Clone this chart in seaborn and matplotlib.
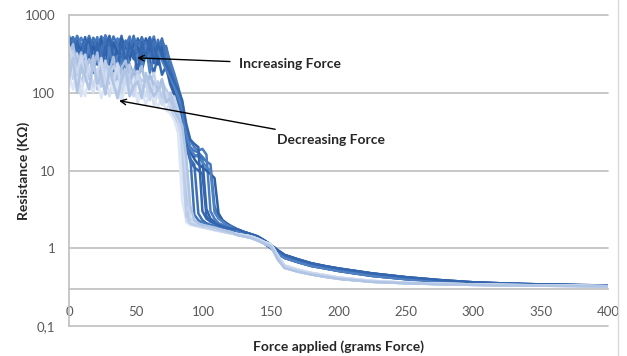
import numpy as np
import pandas as pd
import seaborn as sns
import matplotlib.pyplot as plt
from matplotlib.lines import Line2D

# force grid for the noisy part of each sweep (grams force)
force_head = list(range(0, 121, 3))
# shared smooth tail (grams force)
force_tail = [125, 130, 135, 140, 145, 150, 155, 160, 170, 180, 190, 200,
              225, 250, 275, 300, 325, 350, 375, 400]

# increasing force sweeps, resistance in kOhm
inc_1 = [420, 300, 480, 350, 520, 280, 450, 380, 530, 300, 470, 250, 440, 510, 330, 480, 270, 500, 400, 290,
         460, 350, 420, 300, 380, 220, 150, 100, 60, 22, 17, 15, 16, 14, 3.2, 2.4, 2.2, 2.0, 1.9, 1.85, 1.8]
inc_2 = [350, 480, 260, 420, 310, 500, 380, 230, 460, 520, 290, 410, 350, 540, 260, 390, 470, 320, 520, 380,
         250, 420, 300, 450, 260, 180, 120, 80, 45, 19, 14, 12, 2.8, 2.3, 2.1, 2.0, 1.95, 1.9, 1.85, 1.8, 1.75]
inc_3 = [480, 380, 540, 420, 300, 490, 360, 520, 270, 430, 500, 340, 480, 230, 400, 530, 310, 450, 260, 410,
         520, 280, 480, 330, 400, 240, 170, 110, 70, 30, 20, 18, 17, 15, 13, 12, 3.5, 2.5, 2.2, 2.0, 1.9]
inc_4 = [300, 420, 220, 380, 260, 450, 200, 340, 410, 240, 370, 180, 330, 420, 210, 360, 280, 430, 190, 320,
         260, 180, 300, 170, 220, 130, 95, 70, 48, 25, 13, 11, 10, 9, 2.6, 2.2, 2.1, 2.0, 1.9, 1.8, 1.75]
inc_5 = [520, 440, 360, 510, 400, 540, 330, 460, 390, 550, 420, 320, 500, 380, 450, 300, 520, 360, 470, 330,
         410, 530, 300, 480, 350, 260, 180, 120, 75, 35, 24, 20, 18, 19, 16, 3.0, 2.4, 2.1, 2.0, 1.9, 1.85]
inc_6 = [380, 250, 440, 330, 480, 250, 400, 300, 470, 360, 230, 450, 310, 500, 360, 260, 430, 380, 280, 500,
         330, 480, 230, 400, 200, 150, 100, 75, 50, 28, 18, 14, 12, 11, 10, 9, 8, 2.8, 2.3, 2.1, 1.95]
inc_7 = [460, 520, 390, 300, 460, 370, 510, 420, 330, 490, 380, 530, 400, 290, 470, 340, 540, 290, 350, 450,
         280, 460, 330, 500, 260, 190, 130, 85, 55, 20, 15, 2.7, 2.3, 2.1, 2.0, 1.95, 1.9, 1.85, 1.8, 1.75, 1.7]
inc_8 = [200, 350, 160, 300, 220, 420, 180, 330, 250, 150, 380, 210, 300, 170, 350, 230, 160, 310, 200, 400,
         180, 290, 350, 260, 200, 160, 120, 90, 65, 30, 19, 16, 15, 13, 11, 10, 2.9, 2.4, 2.2, 2.0, 1.9]
inc_9 = [540, 300, 450, 180, 390, 500, 250, 440, 190, 360, 540, 280, 200, 460, 240, 410, 330, 190, 450, 280,
         500, 240, 420, 300, 230, 180, 140, 110, 80, 40, 25, 22, 20, 3.0, 2.4, 2.2, 2.1, 2.0, 1.9, 1.85, 1.8]
inc_tail_a = [1.7, 1.6, 1.5, 1.38, 1.22, 1.05, 0.9, 0.79, 0.69, 0.62, 0.57, 0.53,
              0.46, 0.41, 0.38, 0.36, 0.35, 0.34, 0.335, 0.33]
inc_tail_b = [1.65, 1.55, 1.45, 1.3, 1.15, 1.0, 0.86, 0.75, 0.66, 0.59, 0.55, 0.51,
              0.44, 0.40, 0.37, 0.355, 0.345, 0.338, 0.333, 0.328]
inc_tail_c = [1.75, 1.62, 1.52, 1.42, 1.26, 1.1, 0.94, 0.82, 0.72, 0.64, 0.59, 0.55,
              0.475, 0.425, 0.39, 0.365, 0.352, 0.343, 0.337, 0.332]

# decreasing force sweeps, resistance in kOhm
dec_1 = [250, 150, 320, 180, 260, 130, 220, 160, 280, 140, 200, 120, 240, 170, 110, 210, 150, 190, 100, 160,
         130, 180, 95, 140, 110, 80, 90, 60, 35, 2.3, 2.1, 2.0, 1.95, 1.9, 1.85, 1.8, 1.75, 1.7, 1.65, 1.6, 1.58]
dec_2 = [380, 200, 280, 120, 230, 170, 300, 110, 190, 250, 130, 180, 95, 200, 140, 230, 100, 170, 120, 90,
         150, 110, 130, 75, 100, 65, 50, 40, 20, 3.0, 2.2, 2.05, 2.0, 1.9, 1.85, 1.8, 1.75, 1.7, 1.65, 1.62, 1.6]
dec_3 = [120, 230, 160, 90, 190, 140, 100, 170, 120, 210, 90, 150, 110, 80, 160, 100, 130, 75, 120, 90,
         140, 70, 100, 80, 60, 75, 55, 45, 12, 2.2, 2.0, 1.95, 1.9, 1.85, 1.8, 1.75, 1.7, 1.66, 1.62, 1.58, 1.55]
dec_4 = [300, 420, 220, 330, 180, 270, 200, 330, 150, 240, 190, 290, 140, 210, 260, 130, 200, 150, 220, 120,
         170, 130, 110, 150, 90, 100, 70, 50, 30, 6, 2.3, 2.1, 2.0, 1.95, 1.9, 1.85, 1.8, 1.75, 1.7, 1.66, 1.62]
dec_5 = [180, 110, 200, 130, 90, 160, 110, 140, 85, 130, 170, 100, 140, 75, 120, 95, 150, 80, 110, 70,
         100, 85, 65, 90, 60, 55, 45, 30, 4, 2.4, 2.2, 2.1, 2.0, 1.95, 1.9, 1.85, 1.8, 1.75, 1.7, 1.65, 1.6]
dec_6 = [220, 350, 170, 250, 310, 150, 230, 180, 120, 260, 160, 220, 180, 130, 190, 150, 110, 180, 140, 160,
         100, 120, 140, 85, 110, 90, 65, 55, 25, 2.6, 2.1, 2.0, 1.95, 1.9, 1.85, 1.8, 1.75, 1.7, 1.66, 1.6, 1.56]
dec_7 = [400, 260, 180, 300, 140, 220, 120, 190, 260, 110, 170, 140, 230, 100, 160, 120, 90, 170, 110, 130,
         80, 120, 95, 70, 100, 70, 60, 42, 28, 9, 2.5, 2.2, 2.05, 2.0, 1.9, 1.85, 1.8, 1.75, 1.7, 1.65, 1.6]
dec_8 = [150, 280, 100, 220, 160, 110, 250, 130, 170, 95, 200, 130, 85, 150, 200, 90, 120, 140, 85, 180,
         120, 90, 110, 130, 75, 85, 60, 48, 38, 15, 3.5, 2.3, 2.1, 2.0, 1.95, 1.9, 1.85, 1.78, 1.72, 1.66, 1.62]
dec_tail_a = [1.52, 1.47, 1.42, 1.32, 1.2, 1.12, 0.8, 0.6, 0.53, 0.48, 0.45, 0.42,
              0.38, 0.36, 0.35, 0.343, 0.337, 0.333, 0.33, 0.325]
dec_tail_b = [1.48, 1.42, 1.36, 1.26, 1.15, 1.05, 0.72, 0.56, 0.5, 0.46, 0.43, 0.405,
              0.37, 0.355, 0.345, 0.338, 0.333, 0.33, 0.327, 0.323]

y_ticks = [0.1, 1, 10, 100, 1000]
y_labels = ["0,1", "1", "10", "100", "1000"]
x_ticks = [0, 50, 100, 150, 200, 250, 300, 350, 400]

inc_runs = {"inc1": (inc_1, inc_tail_a), "inc2": (inc_2, inc_tail_b), "inc3": (inc_3, inc_tail_c),
            "inc4": (inc_4, inc_tail_b), "inc5": (inc_5, inc_tail_a), "inc6": (inc_6, inc_tail_c),
            "inc7": (inc_7, inc_tail_a), "inc8": (inc_8, inc_tail_b), "inc9": (inc_9, inc_tail_c)}
dec_runs = {"dec1": (dec_1, dec_tail_a), "dec2": (dec_2, dec_tail_b), "dec3": (dec_3, dec_tail_a),
            "dec4": (dec_4, dec_tail_b), "dec5": (dec_5, dec_tail_a), "dec6": (dec_6, dec_tail_b),
            "dec7": (dec_7, dec_tail_a), "dec8": (dec_8, dec_tail_b)}

inc_colors = ["#2f65ad", "#3b6fb6", "#4577bd", "#3568b0", "#4a7cc0", "#2d5fa6", "#3f73b8",
              "#4f80c2", "#3366ae"]
dec_colors = ["#c5d4ec", "#b5c8e6", "#d3def1", "#a9bfe1", "#dde6f4", "#bccde9", "#cbd8ee", "#b0c4e4"]


def to_frame(runs):
    rows = []
    for name, (head, tail) in runs.items():
        xs = force_head + force_tail
        ys = head + tail
        rows.append(pd.DataFrame({"force": xs, "res": ys, "run": name}))
    return pd.concat(rows, ignore_index=True)


df_inc = to_frame(inc_runs)
df_dec = to_frame(dec_runs)

sns.set_style("white")
plt.rcParams["font.family"] = ["Lato", "DejaVu Sans"]

fig = plt.figure(figsize=(6.27, 3.56), dpi=100)
ax = fig.add_axes([69 / 627, 30 / 356, 539 / 627, 311 / 356])

sns.lineplot(data=df_inc, x="force", y="res", hue="run", palette=inc_colors, sort=False,
             estimator=None, legend=False, lw=1.8, ax=ax)
sns.lineplot(data=df_dec, x="force", y="res", hue="run", palette=dec_colors, sort=False,
             estimator=None, legend=False, lw=1.8, ax=ax)

ax.set_yscale("log")
ax.set_ylim(0.1, 1000)
ax.set_xlim(0, 400)
ax.set_yticks(y_ticks, labels=y_labels)
ax.minorticks_off()
ax.set_xticks(x_ticks)

grid_c = "#bfbfbf"
for yv in [1, 10, 100, 1000]:
    ax.axhline(yv, color=grid_c, lw=1.2, zorder=0, clip_on=False)
ax.axhline(0.1, color=grid_c, lw=1.2, zorder=0, clip_on=False)

for s in ["top", "right"]:
    ax.spines[s].set_visible(False)
ax.spines["left"].set_color(grid_c)
ax.spines["bottom"].set_color(grid_c)
ax.spines["left"].set_linewidth(1.2)
ax.spines["bottom"].set_linewidth(1.2)
ax.spines["bottom"].set_position(("data", 0.3))

ax.tick_params(axis="y", length=0, pad=10, labelsize=9.5, labelcolor="#595959")
ax.tick_params(axis="x", length=0, pad=12, labelsize=9.5, labelcolor="#595959")

ax.set_ylabel("Resistance (KΩ)", fontsize=10, fontweight="bold", color="#262626")
ax.yaxis.set_label_coords(-0.072, 0.5)
ax.set_xlabel("Force applied (grams Force)", fontsize=10, fontweight="bold", color="#262626")
ax.xaxis.set_label_coords(0.5, -0.045)

ax.annotate("Increasing Force", xy=(50.6, 281), xytext=(126, 235), fontsize=10,
            fontweight="bold", color="#262626", ha="left", va="center",
            arrowprops=dict(arrowstyle="->", color="black", lw=1, shrinkA=4, shrinkB=0))
ax.annotate("Decreasing Force", xy=(37.2, 79), xytext=(154.6, 25), fontsize=10,
            fontweight="bold", color="#262626", ha="left", va="center",
            arrowprops=dict(arrowstyle="->", color="black", lw=1, shrinkA=4, shrinkB=0))

fig.add_artist(Line2D([618 / 627, 618 / 627], [0, 1], color="#d9d9d9", lw=1))

fig.savefig("out.png", dpi=100)
